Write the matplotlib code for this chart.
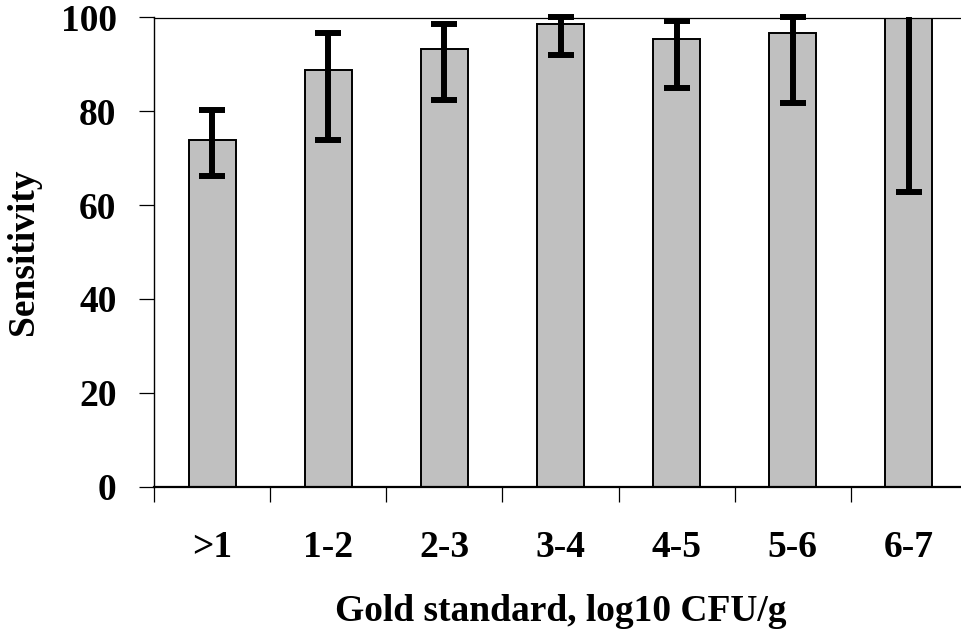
#!/usr/bin/env python3
"""Sensitivity by gold standard bacterial load, bar chart with error bars."""

import matplotlib

matplotlib.use("Agg")
import matplotlib.pyplot as plt
import numpy as np

CATEGORIES = [">1", "1-2", "2-3", "3-4", "4-5", "5-6", "6-7"]
SENSITIVITY = [73.9, 88.8, 93.3, 98.6, 95.4, 96.7, 100.0]
CI_LOWER = [66.1, 73.9, 82.4, 92.1, 84.9, 81.7, 62.8]
CI_UPPER = [80.3, 96.6, 98.6, 100.0, 99.3, 100.0, 100.0]

Y_TICKS = [0, 20, 40, 60, 80, 100]

FONT = {"family": "Liberation Serif", "weight": "bold", "size": 27}


def main() -> None:
    fig = plt.figure(figsize=(9.62, 6.33), dpi=100, facecolor="white")
    # axes runs a little past the right edge of the figure, as in the original
    ax = fig.add_axes([154 / 962, 146.5 / 633, 813 / 962, 469 / 633])

    x = np.arange(len(CATEGORIES))
    vals = np.array(SENSITIVITY)
    yerr = np.vstack([vals - np.array(CI_LOWER), np.array(CI_UPPER) - vals])

    ax.bar(
        x,
        vals,
        width=0.405,
        color="#c0c0c0",
        edgecolor="black",
        linewidth=1.4,
        zorder=2,
    )
    _, caps, bars = ax.errorbar(
        x,
        vals,
        yerr=yerr,
        fmt="none",
        ecolor="black",
        elinewidth=4.3,
        capsize=9.7,
        capthick=4.3,
        zorder=3,
    )
    for art in list(caps) + list(bars):
        art.set_clip_on(False)
    # the last bar shows no upper cap in the original
    upper = max(caps, key=lambda c: np.mean(c.get_ydata()))
    upper.set_markevery(list(range(len(CATEGORIES) - 1)))

    ax.set_xlim(-0.5, len(CATEGORIES) - 0.5)
    ax.set_ylim(0, 100)

    # category boundaries get the tick marks, labels sit in between
    ax.set_xticks(np.arange(len(CATEGORIES) + 1) - 0.5)
    ax.set_xticklabels([])
    ax.set_xticks(x, minor=True)
    ax.set_xticklabels(CATEGORIES, minor=True, fontdict=FONT)
    ax.tick_params(axis="x", which="major", direction="out", length=11, width=0.9)
    ax.tick_params(axis="x", which="minor", length=0, pad=31)

    ax.set_yticks(Y_TICKS)
    ax.set_yticklabels([str(t) for t in Y_TICKS], fontdict=FONT)
    ax.tick_params(axis="y", direction="out", length=11, width=0.9, pad=16)

    ax.set_ylabel("Sensitivity", fontdict=FONT, labelpad=14)
    ax.set_xlabel("Gold standard, log10 CFU/g", fontdict=FONT, labelpad=21)

    ax.spines["left"].set_linewidth(1.0)
    ax.spines["bottom"].set_linewidth(1.6)
    ax.spines["top"].set_linewidth(0.9)
    ax.spines["right"].set_visible(False)

    fig.savefig("out.png", dpi=100, facecolor="white")
    plt.close(fig)


if __name__ == "__main__":
    main()
